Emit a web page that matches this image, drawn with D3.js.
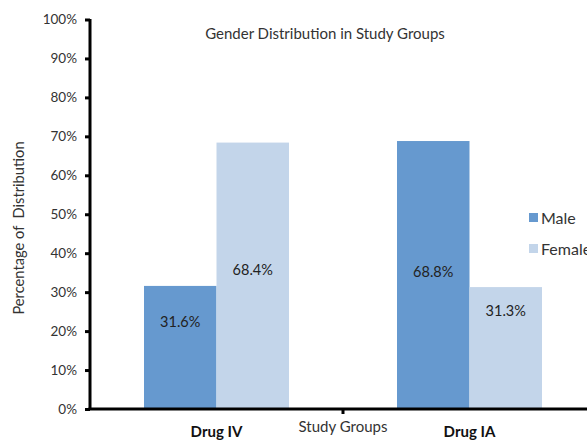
<!DOCTYPE html>
<html>
<head>
<meta charset="utf-8">
<script src="https://cdn.jsdelivr.net/npm/d3@7"></script>
<style>
  body { margin: 0; background: #fff; }
  svg { display: block; font-family: Lato, "Open Sans", sans-serif; }
</style>
</head>
<body>
<div id="chart"></div>
<script>
const groups = ['Drug IV', 'Drug IA'];
const seriesNames = ['Male', 'Female'];
const male = [31.6, 68.8];
const female = [68.4, 31.3];
const yTicks = [0, 10, 20, 30, 40, 50, 60, 70, 80, 90, 100];

const width = 587, height = 440;
const colors = { Male: '#6699cf', Female: '#c3d5ea' };

// where the value labels sit inside each bar (in % units), like the original
const labelAt = { Male: [22.4, 35.2], Female: [35.6, 25.3] };

const svg = d3.select('#chart').append('svg')
    .attr('width', width)
    .attr('height', height);

const x0 = d3.scaleBand().domain(groups).range([90, 596]).paddingInner(0).paddingOuter(0);
const x1 = d3.scaleBand().domain(seriesNames).range([0, x0.bandwidth()]).paddingInner(0).paddingOuter(0.745);
const y = d3.scaleLinear().domain([0, 100]).range([409, 19.5]);

const rows = groups.map((g, i) => ({ group: g, Male: male[i], Female: female[i], i }));

// bars
const gBars = svg.append('g');
rows.forEach(r => {
    seriesNames.forEach(s => {
        gBars.append('rect')
            .attr('x', x0(r.group) + x1(s))
            .attr('y', y(r[s]))
            .attr('width', x1.bandwidth())
            .attr('height', y(0) - y(r[s]))
            .attr('fill', colors[s]);

        gBars.append('text')
            .attr('x', x0(r.group) + x1(s) + x1.bandwidth() / 2)
            .attr('y', y(labelAt[s][r.i]))
            .attr('dy', '0.35em')
            .attr('text-anchor', 'middle')
            .attr('font-size', '14.5px')
            .attr('fill', '#222')
            .text(r[s].toFixed(1) + '%');
    });
});

// y axis
const yAxis = svg.append('g')
    .attr('transform', 'translate(90,0)')
    .call(d3.axisLeft(y).tickValues(yTicks).tickFormat(d => d + '%').tickSize(5).tickPadding(8));
yAxis.select('.domain').attr('stroke', '#000').attr('stroke-width', 3).attr('d', 'M0,19V410');
yAxis.selectAll('.tick line').attr('stroke', '#000').attr('stroke-width', 3);
yAxis.selectAll('.tick text').attr('font-size', '13.5px').attr('fill', '#333').attr('font-family', 'Lato, sans-serif');

// x axis
svg.append('line')
    .attr('x1', 88.5).attr('x2', width)
    .attr('y1', y(0)).attr('y2', y(0))
    .attr('stroke', '#000').attr('stroke-width', 3);
svg.append('line')
    .attr('x1', x0('Drug IA')).attr('x2', x0('Drug IA'))
    .attr('y1', y(0)).attr('y2', y(0) + 5)
    .attr('stroke', '#000').attr('stroke-width', 3);

svg.selectAll('.cat')
    .data(groups)
    .enter()
    .append('text')
    .attr('x', d => x0(d) + x0.bandwidth() / 2)
    .attr('y', 432)
    .attr('dy', '0.35em')
    .attr('text-anchor', 'middle')
    .attr('font-size', '15px')
    .attr('font-weight', 'bold')
    .attr('fill', '#111')
    .text(d => d);

svg.append('text')
    .attr('x', x0('Drug IA'))
    .attr('y', 427)
    .attr('dy', '0.35em')
    .attr('text-anchor', 'middle')
    .attr('font-size', '15px')
    .attr('fill', '#333')
    .text('Study Groups');

// title
svg.append('text')
    .attr('x', 325)
    .attr('y', 34)
    .attr('dy', '0.35em')
    .attr('text-anchor', 'middle')
    .attr('font-size', '15px')
    .attr('fill', '#333')
    .text('Gender Distribution in Study Groups');

// y title
svg.append('text')
    .attr('transform', 'translate(19,228) rotate(-90)')
    .attr('dy', '0.35em')
    .attr('text-anchor', 'middle')
    .attr('font-size', '14.7px')
    .attr('fill', '#333')
    .attr('xml:space', 'preserve')
    .style('white-space', 'pre')
    .text('Percentage of  Distribution');

// legend
const legend = svg.append('g');
seriesNames.forEach((s, i) => {
    const ly = 218 + i * 31;
    legend.append('rect')
        .attr('x', 529).attr('y', ly - 5)
        .attr('width', 9).attr('height', 9)
        .attr('fill', colors[s]);
    legend.append('text')
        .attr('x', 541).attr('y', ly)
        .attr('dy', '0.35em')
        .attr('font-size', '16px')
        .attr('fill', '#333')
        .text(s);
});
</script>
</body>
</html>
